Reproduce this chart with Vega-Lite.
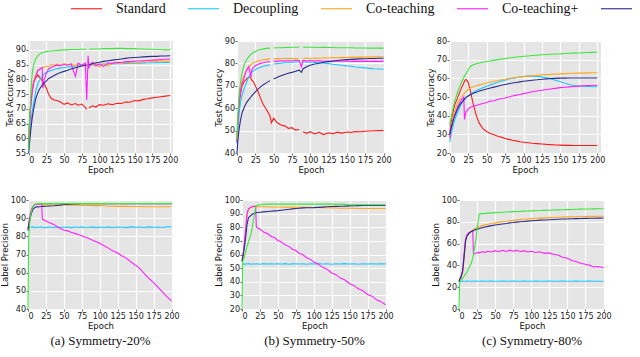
{
"$schema":"https://vega.github.io/schema/vega-lite/v6.json",
"background":"white",
"padding":{"left":0,"top":-8,"right":0,"bottom":0},
"config":{
 "view":{"fill":"#E5E5E5","stroke":null},
 "axis":{"gridColor":"#FFFFFF","gridWidth":1.2,"domain":false,"tickColor":"#666","tickSize":2,"labelFont":"DejaVu Sans","labelFontSize":8,"labelColor":"#222","titleFont":"DejaVu Sans","titleFontSize":8.5,"titleFontWeight":"normal","titleColor":"#111","labelPadding":1},
 "axisX":{"titlePadding":1},
 "axisY":{"titlePadding":1,"labelPadding":0.5},
 "line":{"strokeWidth":1.1},
 "legend":{"orient":"none","legendX":42,"legendY":-49,"direction":"horizontal","columns":6,"padding":0,"symbolType":"stroke","symbolSize":961,"symbolStrokeWidth":2.5,"labelFont":"Liberation Serif","labelFontSize":14,"labelColor":"#111","labelOffset":13,"columnPadding":19,"title":null},
 "title":{"font":"Liberation Serif","fontSize":13,"fontWeight":"normal","color":"#111","orient":"bottom","offset":5}
},
"datasets":{
"a1":[
{"e":0,"S":58,"D":56,"C":57,"P":57,"J":55,"O":56},
{"e":1,"S":65,"D":59,"C":64,"P":63,"J":58,"O":65},
{"e":3,"S":72,"D":65,"C":73,"P":71,"J":63,"O":76},
{"e":5,"S":76,"D":69,"C":77,"P":76,"J":67,"O":82},
{"e":7,"S":79,"D":72,"C":79.5,"P":79,"J":70,"O":85},
{"e":10,"S":80.5,"D":76,"C":81.5,"P":81,"J":73.5,"O":87},
{"e":13,"S":81.5,"D":78.5,"C":83,"P":83,"J":75.5,"O":88},
{"e":16,"S":80.5,"D":80,"C":83.5,"P":83.5,"J":77,"O":88.7},
{"e":19,"S":79.5,"D":81,"C":84,"P":84,"J":78,"O":89},
{"e":20,"S":79,"D":81.3,"C":84,"P":77,"J":78.3,"O":89.1},
{"e":22,"S":78.5,"D":81.8,"C":84.3,"P":80,"J":78.8,"O":89.2},
{"e":25,"S":77,"D":82.3,"C":84.5,"P":82,"J":79.5,"O":89.4},
{"e":28,"S":75,"D":82.7,"C":84.3,"P":83.5,"J":80.2,"O":89.5},
{"e":32,"S":73.5,"D":83,"C":85,"P":84,"J":80.8,"O":89.6},
{"e":36,"S":73,"D":83.3,"C":84.8,"P":84.5,"J":81.3,"O":89.7},
{"e":40,"S":72.8,"D":83.6,"C":85.2,"P":84.8,"J":81.8,"O":89.8},
{"e":45,"S":72.3,"D":83.8,"C":84.8,"P":84.6,"J":82.3,"O":89.9},
{"e":50,"S":71.5,"D":84,"C":85.3,"P":85,"J":82.7,"O":90},
{"e":55,"S":72,"D":84.2,"C":84.9,"P":84.8,"J":83.1,"O":90},
{"e":60,"S":71.3,"D":84.3,"C":85.2,"P":85.2,"J":83.5,"O":90.1},
{"e":66,"S":71.8,"D":84.5,"C":84.6,"P":81,"J":83.9,"O":90.1},
{"e":70,"S":71.2,"D":84.6,"C":85.3,"P":85.5,"J":84.2,"O":90.1},
{"e":75,"S":71.6,"D":84.7,"C":84.8,"P":84.7,"J":84.5,"O":90.2},
{"e":80,"S":70.5,"D":84.8,"C":85,"P":85.5,"J":84.8,"O":90.2},
{"e":82,"S":69.8,"D":84.8,"C":84.5,"P":73,"J":84.9,"O":90.2},
{"e":84,"P":88},
{"e":85,"S":70.3,"D":84.9,"C":85.2,"P":84,"J":85,"O":90.2},
{"e":90,"S":71,"D":85,"C":84.7,"P":85.8,"J":85.3,"O":90.3},
{"e":95,"S":70.6,"D":85,"C":85.4,"P":84.5,"J":85.6,"O":90.3},
{"e":100,"S":71.4,"D":85.1,"C":84.2,"P":85.2,"J":85.8,"O":90.3},
{"e":106,"S":71.2,"D":85.1,"C":85.3,"P":84.3,"J":86.1,"O":90.4},
{"e":112,"S":71.7,"D":85.2,"C":84.6,"P":85.6,"J":86.3,"O":90.4},
{"e":118,"S":71.4,"D":85.2,"C":85.4,"P":85.4,"J":86.5,"O":90.4},
{"e":125,"S":71.9,"D":85.3,"C":85.6,"P":85.8,"J":86.7,"O":90.5},
{"e":131,"S":71.8,"D":85.3,"C":85.3,"P":85.7,"J":86.9,"O":90.5},
{"e":137,"S":72.3,"D":85.4,"C":85.9,"P":86,"J":87.1,"O":90.4},
{"e":143,"S":72.2,"D":85.4,"C":85.5,"P":86,"J":87.3,"O":90.4},
{"e":150,"S":72.8,"D":85.5,"C":86,"P":86.2,"J":87.4,"O":90.4},
{"e":156,"S":72.7,"D":85.5,"C":85.6,"P":86.2,"J":87.5,"O":90.3},
{"e":162,"S":73.2,"D":85.5,"C":86.1,"P":86.3,"J":87.6,"O":90.3},
{"e":168,"S":73.4,"D":85.6,"C":85.8,"P":86.4,"J":87.7,"O":90.2},
{"e":175,"S":73.7,"D":85.6,"C":86.2,"P":86.5,"J":87.8,"O":90.2},
{"e":181,"S":73.9,"D":85.6,"C":86,"P":86.6,"J":87.8,"O":90.1},
{"e":187,"S":74.1,"D":85.7,"C":86.3,"P":86.7,"J":87.9,"O":90.1},
{"e":193,"S":74.3,"D":85.7,"C":86.1,"P":86.8,"J":87.9,"O":90},
{"e":200,"S":74.5,"D":85.7,"C":86.3,"P":86.9,"J":88,"O":90}
],
"b1":[
{"e":0,"S":45,"D":44,"C":46,"P":45,"J":40,"O":46},
{"e":1,"S":52,"D":49,"C":54,"P":53,"J":45,"O":56},
{"e":3,"S":62,"D":58,"C":65,"P":63,"J":51,"O":67},
{"e":5,"S":67,"D":63,"C":69,"P":68,"J":55,"O":72},
{"e":7,"S":70,"D":66,"C":72,"P":71,"J":58,"O":76},
{"e":10,"S":72,"D":69,"C":75,"P":74,"J":60.5,"O":79.5},
{"e":13,"S":73,"D":71.5,"C":77,"P":77,"J":62.5,"O":81.5},
{"e":16,"S":74,"D":74,"C":78.5,"P":78.5,"J":63.8,"O":83},
{"e":19,"S":73.5,"D":75.5,"C":79.5,"P":74,"J":65,"O":84},
{"e":20,"S":72.5,"D":76,"C":79.8,"P":77,"J":65.5,"O":84.3},
{"e":22,"S":72,"D":76.6,"C":80.2,"P":78,"J":66.2,"O":84.8},
{"e":25,"S":70,"D":77.2,"C":80.6,"P":79,"J":67.3,"O":85.3},
{"e":28,"S":68,"D":77.7,"C":81,"P":79.5,"J":68.3,"O":85.8},
{"e":32,"S":64.5,"D":78.3,"C":81.3,"P":80,"J":69.5,"O":86.2},
{"e":36,"S":61.5,"D":78.7,"C":81.6,"P":80.3,"J":70.5,"O":86.5},
{"e":40,"S":59.5,"D":79,"C":81.8,"P":80.6,"J":71.3,"O":86.7},
{"e":45,"S":56.5,"D":79.4,"C":82,"P":80.8,"J":72.3,"O":86.8},
{"e":47,"S":53.5},
{"e":50,"S":55.5,"D":79.7,"C":82,"P":81,"J":73,"O":86.9},
{"e":55,"S":53.5,"D":79.9,"C":82.2,"P":80.9,"J":73.8,"O":87},
{"e":60,"S":52.5,"D":80.1,"C":82.1,"P":81.2,"J":74.5,"O":87},
{"e":66,"S":52,"D":80.3,"C":82.3,"P":81,"J":75.2,"O":87.1},
{"e":70,"S":51,"D":80.4,"C":82.2,"P":81.3,"J":75.6,"O":87.1},
{"e":75,"S":51.3,"D":80.5,"C":82.3,"P":81.1,"J":76,"O":87.2},
{"e":80,"S":50.2,"D":80.6,"C":82.1,"P":81.4,"J":76.5,"O":87.2},
{"e":85,"S":50.5,"D":80.6,"C":82.3,"P":81.2,"J":77,"O":87.2},
{"e":88,"P":78.5,"J":76},
{"e":90,"S":49.5,"D":80.6,"C":82.2,"P":81.3,"J":77.5,"O":87.2},
{"e":95,"S":48.8,"D":80.6,"C":82.4,"P":81,"J":78.5,"O":87.2},
{"e":100,"S":49.5,"D":80.5,"C":82.2,"P":81.3,"J":79.2,"O":87.2},
{"e":106,"S":48.5,"D":80.4,"C":82.4,"P":81,"J":79.7,"O":87.2},
{"e":112,"S":49.3,"D":80.3,"C":82.3,"P":81.2,"J":80.1,"O":87.1},
{"e":118,"S":48.2,"D":80.1,"C":82.5,"P":80.9,"J":80.5,"O":87.2},
{"e":125,"S":49,"D":79.9,"C":82.4,"P":81.1,"J":80.8,"O":87.1},
{"e":131,"S":48.6,"D":79.6,"C":82.6,"P":80.9,"J":81.1,"O":87.1},
{"e":137,"S":49.3,"D":79.4,"C":82.5,"P":81.1,"J":81.3,"O":87},
{"e":143,"S":48.9,"D":79.2,"C":82.7,"P":81,"J":81.5,"O":87},
{"e":150,"S":49.4,"D":78.9,"C":82.6,"P":81.1,"J":81.7,"O":87},
{"e":156,"S":49.2,"D":78.7,"C":82.8,"P":80.9,"J":81.8,"O":87},
{"e":162,"S":49.6,"D":78.4,"C":82.7,"P":81,"J":81.9,"O":86.9},
{"e":168,"S":49.5,"D":78.2,"C":82.9,"P":80.9,"J":82,"O":86.9},
{"e":175,"S":49.7,"D":78,"C":82.8,"P":81,"J":82.1,"O":86.9},
{"e":181,"S":49.8,"D":77.8,"C":83,"P":80.9,"J":82.2,"O":86.8},
{"e":187,"S":49.9,"D":77.6,"C":82.9,"P":81,"J":82.2,"O":86.8},
{"e":193,"S":50,"D":77.5,"C":83,"P":80.9,"J":82.3,"O":86.8},
{"e":200,"S":50,"D":77.4,"C":83,"P":81,"J":82.3,"O":86.8}
],
"c1":[
{"e":0,"S":30,"D":26,"C":28,"P":28,"J":30,"O":35},
{"e":1,"S":34,"D":28,"C":32,"P":31,"J":32,"O":37},
{"e":3,"S":39,"D":32,"C":36,"P":35,"J":35,"O":41},
{"e":5,"S":43,"D":35,"C":40,"P":38,"J":38,"O":45},
{"e":7,"S":46,"D":38,"C":43,"P":41,"J":40,"O":48},
{"e":10,"S":49,"D":41,"C":46,"P":44,"J":43,"O":52},
{"e":13,"S":52,"D":44,"C":48.5,"P":46.5,"J":45.5,"O":55},
{"e":16,"S":55,"D":46.5,"C":50,"P":48.5,"J":47,"O":58},
{"e":19,"S":57.5,"D":48,"C":51.5,"P":50,"J":48.5,"O":60.5},
{"e":20,"S":58.5,"D":48.5,"C":52,"P":38,"J":49,"O":61.2},
{"e":22,"S":59.5,"D":49.5,"C":53,"P":42,"J":49.8,"O":62.5},
{"e":25,"S":58,"D":50.5,"C":54,"P":43.5,"J":50.5,"O":64.5},
{"e":28,"S":53,"D":51.5,"C":54.8,"P":44.5,"J":51.2,"O":66.5},
{"e":32,"S":46,"D":52.5,"C":55.5,"P":45,"J":52,"O":67.3},
{"e":36,"S":40,"D":53.5,"C":56,"P":45.5,"J":52.6,"O":67.8},
{"e":40,"S":36,"D":54.2,"C":56.5,"P":46,"J":53.2,"O":68.2},
{"e":45,"S":33,"D":55,"C":57,"P":46.5,"J":53.8,"O":68.6},
{"e":50,"S":31.5,"D":55.8,"C":57.5,"P":47,"J":54.3,"O":69},
{"e":55,"S":30.5,"D":56.5,"C":58,"P":47.8,"J":54.8,"O":69.3},
{"e":60,"S":29.8,"D":57.2,"C":58.4,"P":48,"J":55.3,"O":69.6},
{"e":66,"S":28.8,"D":58,"C":58.8,"P":48.8,"J":55.9,"O":70},
{"e":70,"S":28.5,"D":58.5,"C":59.2,"P":49.2,"J":56.3,"O":70.3},
{"e":75,"S":27.8,"D":59,"C":59.5,"P":49.5,"J":56.7,"O":70.6},
{"e":80,"S":27.3,"D":59.6,"C":59.9,"P":50,"J":57.1,"O":70.9},
{"e":85,"S":26.8,"D":60,"C":60.2,"P":50.5,"J":57.5,"O":71.2},
{"e":90,"S":26.5,"D":60.4,"C":60.4,"P":51,"J":57.8,"O":71.4},
{"e":95,"S":26,"D":60.7,"C":60.7,"P":51.3,"J":58.1,"O":71.6},
{"e":100,"S":25.8,"D":61,"C":60.9,"P":51.8,"J":58.4,"O":71.8},
{"e":106,"S":25.5,"D":61.2,"C":61.2,"P":52.3,"J":58.7,"O":72},
{"e":112,"S":25.2,"D":61.2,"C":61.4,"P":52.8,"J":59,"O":72.2},
{"e":118,"S":25,"D":61.1,"C":61.6,"P":53.2,"J":59.2,"O":72.4},
{"e":125,"S":24.8,"D":60.8,"C":61.9,"P":53.6,"J":59.5,"O":72.6},
{"e":131,"S":24.6,"D":60.3,"C":62,"P":54,"J":59.7,"O":72.8},
{"e":137,"S":24.5,"D":59.7,"C":62.1,"P":54.3,"J":59.9,"O":72.9},
{"e":143,"S":24.3,"D":59,"C":62.3,"P":54.6,"J":60,"O":73},
{"e":150,"S":24.2,"D":58.2,"C":62.4,"P":55,"J":60.1,"O":73.1},
{"e":156,"S":24.1,"D":57.4,"C":62.5,"P":55.2,"J":60.1,"O":73.3},
{"e":162,"S":24.1,"D":56.7,"C":62.6,"P":55.4,"J":60.2,"O":73.4},
{"e":168,"S":24,"D":56.2,"C":62.7,"P":55.6,"J":60.2,"O":73.5},
{"e":175,"S":24,"D":55.9,"C":62.8,"P":55.8,"J":60.2,"O":73.6},
{"e":181,"S":24,"D":55.7,"C":62.8,"P":56,"J":60.2,"O":73.7},
{"e":187,"S":24,"D":55.6,"C":62.9,"P":56.1,"J":60.2,"O":73.8},
{"e":193,"S":24,"D":55.5,"C":63,"P":56.2,"J":60.2,"O":73.9},
{"e":200,"S":24,"D":55.5,"C":63,"P":56.3,"J":60.2,"O":74}
],
"a2":[
{"e":0,"D":84,"C":84,"P":84,"J":83,"O":40},
{"e":1,"D":85,"C":87,"P":87,"J":86,"O":80},
{"e":3,"D":85,"C":92,"P":92,"J":90,"O":90},
{"e":5,"D":85,"C":95,"P":95,"J":93,"O":94},
{"e":7,"D":85.2,"C":96.5,"P":96.5,"J":95,"O":96.5},
{"e":10,"D":84.8,"C":97.5,"P":97.5,"J":96,"O":97.8},
{"e":13,"D":85.1,"C":97.5,"P":97.7,"J":96.2,"O":98},
{"e":16,"D":84.9,"C":97.6,"P":97.8,"J":96.3,"O":98},
{"e":19,"D":85.2,"C":97.5,"P":97.8,"J":96.4,"O":98},
{"e":20,"D":85,"C":97.5,"P":89.5,"J":96.5,"O":98},
{"e":25,"D":84.8,"C":97.4,"P":88.5,"J":96.6,"O":98},
{"e":30,"D":85.1,"C":97.4,"P":87.5,"J":96.7,"O":98},
{"e":36,"D":84.9,"C":97.4,"P":86.5,"J":96.8,"O":98},
{"e":40,"D":85.2,"C":97.3,"P":85.5,"J":97,"O":98},
{"e":45,"D":84.9,"C":97.3,"P":84.3,"J":97.2,"O":98},
{"e":50,"D":85,"C":97.3,"P":83.5,"J":97.5,"O":98},
{"e":55,"D":85.1,"C":97.2,"P":83,"J":97.6,"O":98},
{"e":60,"D":84.8,"C":97.2,"P":82.2,"J":97.7,"O":98},
{"e":66,"D":85.1,"C":97.2,"P":81.5,"J":97.8,"O":98},
{"e":70,"D":84.9,"C":97.1,"P":81,"J":97.8,"O":98},
{"e":75,"D":85.2,"C":97,"P":80.3,"J":97.9,"O":98},
{"e":80,"D":84.9,"C":97,"P":79.5,"J":97.9,"O":98},
{"e":85,"D":85,"C":97,"P":78.8,"J":97.9,"O":98},
{"e":90,"D":85.2,"C":96.9,"P":77.8,"J":97.9,"O":98},
{"e":95,"D":84.8,"C":96.9,"P":77,"J":98,"O":98},
{"e":100,"D":85.1,"C":96.9,"P":76.2,"J":98,"O":98},
{"e":106,"D":84.9,"C":96.8,"P":74.8,"J":98,"O":98},
{"e":112,"D":85.2,"C":96.6,"P":73.5,"J":98,"O":98.1},
{"e":118,"D":84.9,"C":96.6,"P":72,"J":98,"O":98.1},
{"e":125,"D":85.1,"C":96.5,"P":70.8,"J":98,"O":98.1},
{"e":131,"D":85,"C":96.5,"P":69.2,"J":98,"O":98.1},
{"e":137,"D":84.8,"C":96.5,"P":68,"J":98,"O":98.1},
{"e":143,"D":85.2,"C":96.4,"P":66,"J":98,"O":98.1},
{"e":150,"D":85,"C":96.4,"P":64,"J":98,"O":98.1},
{"e":156,"D":85.1,"C":96.4,"P":62.2,"J":98,"O":98.1},
{"e":162,"D":84.9,"C":96.3,"P":59.5,"J":98,"O":98.1},
{"e":168,"D":85.2,"C":96.3,"P":57,"J":98,"O":98.1},
{"e":175,"D":85,"C":96.3,"P":54.5,"J":98,"O":98.1},
{"e":181,"D":85.1,"C":96.3,"P":52,"J":98,"O":98.1},
{"e":187,"D":84.9,"C":96.3,"P":49.5,"J":98,"O":98.1},
{"e":193,"D":85.2,"C":96.3,"P":47,"J":98,"O":98.1},
{"e":200,"D":85.3,"C":96.3,"P":44.5,"J":98,"O":98.1}
],
"b2":[
{"e":0,"D":53,"C":55,"P":55,"J":55,"O":20},
{"e":1,"D":53.3,"C":58,"P":58,"J":58,"O":55},
{"e":3,"D":52.8,"C":66,"P":67,"J":64,"O":58},
{"e":5,"D":53.2,"C":76,"P":78,"J":72,"O":62},
{"e":7,"D":53,"C":88,"P":90,"J":82,"O":66},
{"e":9,"D":53.3,"C":93.5,"P":93.5,"J":87,"O":69},
{"e":13,"D":52.9,"C":94.5,"P":95,"J":89,"O":76},
{"e":16,"D":53.2,"C":95,"P":95.3,"J":90,"O":85},
{"e":19,"D":53,"C":95,"P":95.5,"J":90.5,"O":95},
{"e":20,"D":53.2,"C":95,"P":80,"J":90.6,"O":95.8},
{"e":25,"D":52.9,"C":95,"P":78.6,"J":91,"O":96.5},
{"e":30,"D":53.3,"C":95,"P":76.5,"J":91.3,"O":96.8},
{"e":36,"D":53,"C":95,"P":75.2,"J":91.6,"O":97},
{"e":40,"D":53.2,"C":94.9,"P":73.4,"J":91.8,"O":97},
{"e":45,"D":53,"C":94.9,"P":72.4,"J":92,"O":97},
{"e":50,"D":53.2,"C":94.9,"P":70.2,"J":92.2,"O":97},
{"e":55,"D":53,"C":94.9,"P":69.2,"J":92.5,"O":97},
{"e":60,"D":53.3,"C":94.8,"P":67.1,"J":92.8,"O":97},
{"e":66,"D":52.9,"C":94.8,"P":65.8,"J":93.2,"O":97},
{"e":70,"D":53.1,"C":94.8,"P":63.9,"J":93.5,"O":97},
{"e":75,"D":53.2,"C":94.8,"P":62.9,"J":93.8,"O":97},
{"e":80,"D":53,"C":94.7,"P":60.7,"J":94,"O":97},
{"e":85,"D":53.2,"C":94.7,"P":59.8,"J":94.2,"O":97},
{"e":90,"D":52.9,"C":94.7,"P":57.6,"J":94.3,"O":97},
{"e":95,"D":53.2,"C":94.6,"P":56.6,"J":94.3,"O":97},
{"e":100,"D":53,"C":94.5,"P":54.4,"J":94.4,"O":97},
{"e":106,"D":53.3,"C":94.5,"P":53.1,"J":94.6,"O":97},
{"e":112,"D":53,"C":94.4,"P":50.6,"J":94.8,"O":97},
{"e":118,"D":53.2,"C":94.3,"P":49.3,"J":95,"O":97},
{"e":125,"D":52.9,"C":94.2,"P":46.5,"J":95.2,"O":97},
{"e":131,"D":53.2,"C":94.1,"P":45.2,"J":95.3,"O":97},
{"e":137,"D":53,"C":94,"P":42.7,"J":95.4,"O":97},
{"e":143,"D":53.3,"C":94,"P":41.4,"J":95.5,"O":96.8},
{"e":150,"D":53,"C":93.9,"P":38.6,"J":95.7,"O":96.5},
{"e":156,"D":53.2,"C":93.9,"P":37.3,"J":95.8,"O":96.5},
{"e":162,"D":52.9,"C":93.8,"P":34.8,"J":95.9,"O":96.5},
{"e":168,"D":53.2,"C":93.8,"P":33.5,"J":96,"O":96.5},
{"e":175,"D":53,"C":93.8,"P":30.7,"J":96,"O":96.5},
{"e":181,"D":53.2,"C":93.8,"P":29.4,"J":96,"O":96.5},
{"e":187,"D":53,"C":93.8,"P":26.9,"J":96,"O":96.5},
{"e":193,"D":53.2,"C":93.8,"P":25.6,"J":96,"O":96.5},
{"e":200,"D":53.1,"C":93.8,"P":23.1,"J":96,"O":96.5}
],
"c2":[
{"e":0,"D":25.5,"C":25,"P":25,"J":25,"O":0},
{"e":1,"D":25.6,"C":27,"P":27,"J":27,"O":25},
{"e":3,"D":25.4,"C":29,"P":30,"J":30,"O":27},
{"e":5,"D":25.6,"C":33,"P":35,"J":35,"O":28},
{"e":7,"D":25.5,"C":45,"P":50,"J":48,"O":30},
{"e":9,"D":25.4,"C":62,"P":64,"J":62,"O":32},
{"e":11,"D":25.6,"C":67,"P":68,"J":67,"O":34},
{"e":14,"D":25.5,"C":70,"P":70,"J":69.5,"O":38},
{"e":17,"D":25.4,"C":71.5,"P":71,"J":71,"O":42},
{"e":19,"D":25.6,"C":72.5,"P":71.5,"J":71.5,"O":47},
{"e":20,"D":25.5,"C":73,"P":50.5,"J":72,"O":50},
{"e":23,"D":25.6,"C":74,"P":51,"J":72.8,"O":62},
{"e":26,"D":25.4,"C":75,"P":52,"J":73.3,"O":78},
{"e":28,"D":25.5,"C":75.5,"P":51.5,"J":73.8,"O":87},
{"e":32,"D":25.6,"C":76.5,"P":52.5,"J":74.5,"O":87.5},
{"e":36,"D":25.5,"C":77.2,"P":52,"J":75.2,"O":87.7},
{"e":40,"D":25.4,"C":77.8,"P":53,"J":75.8,"O":88},
{"e":45,"D":25.6,"C":78.5,"P":52.3,"J":76.5,"O":88.2},
{"e":50,"D":25.5,"C":79,"P":53.5,"J":77,"O":88.4},
{"e":55,"D":25.4,"C":79.5,"P":52.5,"J":77.5,"O":88.6},
{"e":60,"D":25.6,"C":80,"P":53.8,"J":78,"O":88.8},
{"e":66,"D":25.5,"C":80.5,"P":52.8,"J":78.5,"O":89},
{"e":70,"D":25.4,"C":81,"P":54,"J":79,"O":89.1},
{"e":75,"D":25.6,"C":81.3,"P":53,"J":79.3,"O":89.3},
{"e":80,"D":25.5,"C":81.7,"P":53.8,"J":79.7,"O":89.5},
{"e":85,"D":25.5,"C":82,"P":52.5,"J":80,"O":89.6},
{"e":90,"D":25.6,"C":82.3,"P":53.5,"J":80.3,"O":89.8},
{"e":95,"D":25.4,"C":82.6,"P":52.3,"J":80.6,"O":89.9},
{"e":100,"D":25.5,"C":82.9,"P":53,"J":80.9,"O":90},
{"e":106,"D":25.6,"C":83.2,"P":51.8,"J":81.2,"O":90.2},
{"e":112,"D":25.5,"C":83.4,"P":52.5,"J":81.5,"O":90.3},
{"e":118,"D":25.4,"C":83.6,"P":51,"J":81.7,"O":90.5},
{"e":125,"D":25.6,"C":83.8,"P":51.5,"J":81.9,"O":90.6},
{"e":131,"D":25.5,"C":84,"P":50,"J":82.1,"O":90.8},
{"e":137,"D":25.4,"C":84.2,"P":49.5,"J":82.3,"O":90.9},
{"e":143,"D":25.6,"C":84.4,"P":47.5,"J":82.5,"O":91},
{"e":150,"D":25.5,"C":84.5,"P":46.5,"J":82.6,"O":91.2},
{"e":156,"D":25.5,"C":84.6,"P":44.5,"J":82.8,"O":91.3},
{"e":162,"D":25.6,"C":84.7,"P":43.5,"J":82.9,"O":91.5},
{"e":168,"D":25.4,"C":84.8,"P":42,"J":83,"O":91.6},
{"e":175,"D":25.5,"C":84.9,"P":41,"J":83.1,"O":91.7},
{"e":181,"D":25.6,"C":85,"P":40,"J":83.2,"O":91.8},
{"e":187,"D":25.5,"C":85,"P":38.5,"J":83.3,"O":91.9},
{"e":193,"D":25.4,"C":85.1,"P":39,"J":83.4,"O":92},
{"e":200,"D":25.5,"C":85.1,"P":38,"J":83.5,"O":92}
]
},
"columns":3,
"align":"none",
"spacing":{"row":22,"column":34},
"concat":[
 {"width":145,"height":112,"data":{"name":"a1"},"transform":[{"fold":["S","D","C","P","J","O"],"as":["m","v"]}],
  "mark":{"type":"line"},
  "encoding":{
   "x":{"field":"e","type":"quantitative","scale":{"domain":[-1,204],"nice":false},"axis":{"values":[0,25,50,75,100,125,150,175,200],"title":"Epoch"}},
   "y":{"field":"v","type":"quantitative","scale":{"domain":[55,93],"nice":false,"zero":false},"axis":{"values":[55,60,65,70,75,80,85,90],"title":"Test Accuracy"}},
   "color":{"field":"m","type":"nominal","scale":{"domain":["S","D","C","P","J","O"],"range":["#FF1A1A","#1EC8FF","#FFA51E","#FF1EFF","#2B2B8C","#3CE63C"]},"legend":{"values":["S","D","C","P","J"],"labelExpr":"{'S':'Standard','D':'Decoupling','C':'Co-teaching','P':'Co-teaching+','J':'JoCoR','O':'Ours'}[datum.label]"}}}},
 {"width":148,"height":112,"data":{"name":"b1"},"transform":[{"fold":["S","D","C","P","J","O"],"as":["m","v"]}],
  "mark":{"type":"line"},
  "encoding":{
   "x":{"field":"e","type":"quantitative","scale":{"domain":[0,202],"nice":false},"axis":{"values":[0,25,50,75,100,125,150,175,200],"title":"Epoch"}},
   "y":{"field":"v","type":"quantitative","scale":{"domain":[40,90],"nice":false,"zero":false},"axis":{"values":[40,50,60,70,80,90],"title":"Test Accuracy"}},
   "color":{"field":"m","type":"nominal","scale":{"domain":["S","D","C","P","J","O"],"range":["#FF1A1A","#1EC8FF","#FFA51E","#FF1EFF","#2B2B8C","#3CE63C"]},"legend":{"values":["S","D","C","P","J"],"labelExpr":"{'S':'Standard','D':'Decoupling','C':'Co-teaching','P':'Co-teaching+','J':'JoCoR','O':'Ours'}[datum.label]"}}}},
 {"width":152,"height":112,"data":{"name":"c1"},"transform":[{"fold":["S","D","C","P","J","O"],"as":["m","v"]}],
  "mark":{"type":"line"},
  "encoding":{
   "x":{"field":"e","type":"quantitative","scale":{"domain":[-1,205],"nice":false},"axis":{"values":[0,25,50,75,100,125,150,175,200],"title":"Epoch"}},
   "y":{"field":"v","type":"quantitative","scale":{"domain":[20,80],"nice":false,"zero":false},"axis":{"values":[20,30,40,50,60,70,80],"title":"Test Accuracy"}},
   "color":{"field":"m","type":"nominal","scale":{"domain":["S","D","C","P","J","O"],"range":["#FF1A1A","#1EC8FF","#FFA51E","#FF1EFF","#2B2B8C","#3CE63C"]},"legend":{"values":["S","D","C","P","J"],"labelExpr":"{'S':'Standard','D':'Decoupling','C':'Co-teaching','P':'Co-teaching+','J':'JoCoR','O':'Ours'}[datum.label]"}}}},
 {"width":145,"height":109,"data":{"name":"a2"},"transform":[{"fold":["D","C","P","J","O"],"as":["m","v"]}],
  "title":{"text":"(a) Symmetry-20%"},
  "mark":{"type":"line"},
  "encoding":{
   "x":{"field":"e","type":"quantitative","scale":{"domain":[0,202],"nice":false},"axis":{"values":[0,25,50,75,100,125,150,175,200],"title":"Epoch"}},
   "y":{"field":"v","type":"quantitative","scale":{"domain":[40,100],"nice":false,"zero":false},"axis":{"values":[40,50,60,70,80,90,100],"title":"Label Precision"}},
   "color":{"field":"m","type":"nominal","scale":{"domain":["S","D","C","P","J","O"],"range":["#FF1A1A","#1EC8FF","#FFA51E","#FF1EFF","#2B2B8C","#3CE63C"]},"legend":{"values":["S","D","C","P","J"],"labelExpr":"{'S':'Standard','D':'Decoupling','C':'Co-teaching','P':'Co-teaching+','J':'JoCoR','O':'Ours'}[datum.label]"}}}},
 {"width":145,"height":109,"data":{"name":"b2"},"transform":[{"fold":["D","C","P","J","O"],"as":["m","v"]}],
  "title":{"text":"(b) Symmetry-50%"},
  "mark":{"type":"line"},
  "encoding":{
   "x":{"field":"e","type":"quantitative","scale":{"domain":[0,202],"nice":false},"axis":{"values":[0,25,50,75,100,125,150,175,200],"title":"Epoch"}},
   "y":{"field":"v","type":"quantitative","scale":{"domain":[20,100],"nice":false,"zero":false},"axis":{"values":[20,30,40,50,60,70,80,90,100],"title":"Label Precision"}},
   "color":{"field":"m","type":"nominal","scale":{"domain":["S","D","C","P","J","O"],"range":["#FF1A1A","#1EC8FF","#FFA51E","#FF1EFF","#2B2B8C","#3CE63C"]},"legend":{"values":["S","D","C","P","J"],"labelExpr":"{'S':'Standard','D':'Decoupling','C':'Co-teaching','P':'Co-teaching+','J':'JoCoR','O':'Ours'}[datum.label]"}}}},
 {"width":146,"height":109,"data":{"name":"c2"},"transform":[{"fold":["D","C","P","J","O"],"as":["m","v"]}],
  "title":{"text":"(c) Symmetry-80%"},
  "mark":{"type":"line"},
  "encoding":{
   "x":{"field":"e","type":"quantitative","scale":{"domain":[0,202],"nice":false},"axis":{"values":[0,25,50,75,100,125,150,175,200],"title":"Epoch"}},
   "y":{"field":"v","type":"quantitative","scale":{"domain":[0,100],"nice":false,"zero":false},"axis":{"values":[0,20,40,60,80,100],"title":"Label Precision"}},
   "color":{"field":"m","type":"nominal","scale":{"domain":["S","D","C","P","J","O"],"range":["#FF1A1A","#1EC8FF","#FFA51E","#FF1EFF","#2B2B8C","#3CE63C"]},"legend":{"values":["S","D","C","P","J"],"labelExpr":"{'S':'Standard','D':'Decoupling','C':'Co-teaching','P':'Co-teaching+','J':'JoCoR','O':'Ours'}[datum.label]"}}}}
]
}
